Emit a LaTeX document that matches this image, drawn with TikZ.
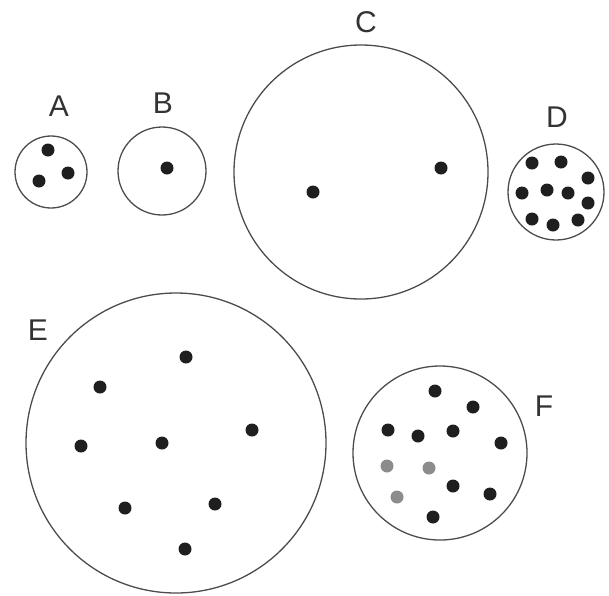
\documentclass[tikz,border=0pt]{standalone}
\usepackage{fontspec}
\setmainfont{Liberation Sans}
\begin{document}
\begin{tikzpicture}[x=1pt,y=-1pt,
  ring/.style={draw=black!70,line width=1.3pt},
  dot/.style={circle,fill=black!88,inner sep=0pt,minimum size=13pt},
  gdot/.style={circle,fill=black!45,inner sep=0pt,minimum size=13pt},
  lab/.style={text=black!80,font=\fontsize{30}{30}\selectfont,inner sep=0pt}]
\useasboundingbox (0,0) rectangle (609,595);
% circles
\draw[ring] (51,172) circle (36);
\draw[ring] (162,171) circle (44);
\draw[ring] (361,172) circle (127);
\draw[ring] (556,192) circle (48);
\draw[ring] (176,443) circle (150);
\draw[ring] (440,453) circle (87);
% labels
\node[lab] (la) at (59,106) {A};
\node[lab] (lb) at (163,103) {B};
\node[lab] (lc) at (366,22) {C};
\node[lab] (ld) at (557,117) {D};
\node[lab] (le) at (38,330) {E};
\node[lab] (lf) at (544,406) {F};
% A
\node[dot] (a1) at (48,150) {};
\node[dot] (a2) at (39,181) {};
\node[dot] (a3) at (68,173) {};
% B
\node[dot] (b1) at (167,168) {};
% C
\node[dot] (c1) at (313,192) {};
\node[dot] (c2) at (441,168) {};
% D
\node[dot] (d1) at (532,163) {};
\node[dot] (d2) at (561,162) {};
\node[dot] (d3) at (588,178) {};
\node[dot] (d4) at (522,193) {};
\node[dot] (d5) at (547,190) {};
\node[dot] (d6) at (568,193) {};
\node[dot] (d7) at (588,203) {};
\node[dot] (d8) at (532,219) {};
\node[dot] (d9) at (553,225) {};
\node[dot] (d10) at (578,220) {};
% E
\node[dot] (e1) at (186,357) {};
\node[dot] (e2) at (100,387) {};
\node[dot] (e3) at (81,446) {};
\node[dot] (e4) at (162,443) {};
\node[dot] (e5) at (252,430) {};
\node[dot] (e6) at (125,508) {};
\node[dot] (e7) at (215,504) {};
\node[dot] (e8) at (185,549) {};
% F
\node[dot] (f1) at (435,391) {};
\node[dot] (f2) at (473,407) {};
\node[dot] (f3) at (388,430) {};
\node[dot] (f4) at (418,436) {};
\node[dot] (f5) at (453,431) {};
\node[dot] (f6) at (501,443) {};
\node[gdot] (f7) at (387,466) {};
\node[gdot] (f8) at (429,468) {};
\node[dot] (f9) at (453,486) {};
\node[gdot] (f10) at (397,497) {};
\node[dot] (f11) at (490,494) {};
\node[dot] (f12) at (433,517) {};
\end{tikzpicture}
\end{document}
